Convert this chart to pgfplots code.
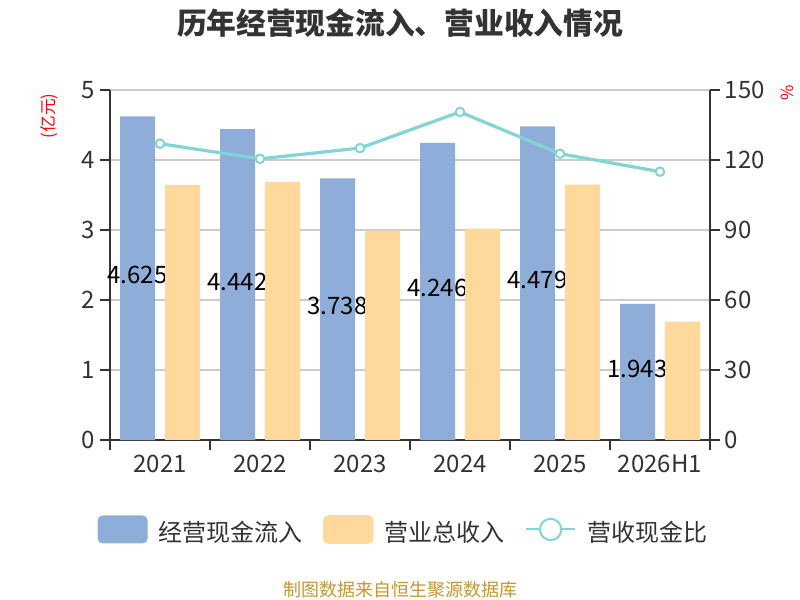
\documentclass[border=0pt]{standalone}
\usepackage{fontspec}
\setmainfont{Noto Sans CJK SC}
\usepackage{pgfplots}
\usepackage{pgfplotstable}
\pgfplotsset{compat=1.18}
\definecolor{cblue}{HTML}{8EADD9}
\definecolor{cyellow}{HTML}{FFD89B}
\definecolor{cline}{HTML}{82D4D7}
\definecolor{ctext}{HTML}{333333}
\definecolor{cgrid}{HTML}{CCCCCC}
\definecolor{cfoot}{HTML}{C8962E}
\definecolor{cred}{HTML}{FF0000}

\pgfplotstableread{
x cash rev ratio
0 4.625 3.643 127.0
1 4.442 3.687 120.5
2 3.738 2.988 125.1
3 4.246 3.020 140.6
4 4.479 3.650 122.7
5 1.943 1.690 115.0
}\datatable

\begin{document}
\begin{tikzpicture}[x=1pt,y=1pt]
\path[use as bounding box] (-82.5,-120) rectangle (517.5,330);
\pgfplotsset{
  common/.style={
    at={(0,0)}, anchor=south west, scale only axis,
    width=450pt, height=262.5pt,
    xmin=-0.5, xmax=5.5, ymin=0,
    tick align=outside, major tick length=7.5pt,
    tick style={ctext, line width=1pt},
    axis line style={ctext, line width=1.2pt},
    tick label style={font=\fontsize{18pt}{20pt}\selectfont, text=ctext},
    /pgf/number format/assume math mode=true,
  }
}
% axis 1: frame, grid, blue bars with labels, legend
\begin{axis}[common, ymax=5,
  axis x line*=bottom, axis y line*=left,
  xtick={-0.5,0.5,1.5,2.5,3.5,4.5,5.5},
  x tick label as interval,
  xticklabels={2021,2022,2023,2024,2025,2026H1},
  ytick={0,1,2,3,4,5},
  ymajorgrids, grid style={cgrid, line width=0.9pt},
  legend columns=3,
  legend style={draw=none, fill=none, inner sep=0pt,
    at={(-0.0211,-0.2557)}, anchor=west,
    nodes={inner sep=0pt, font=\fontsize{18pt}{20pt}\selectfont, text=ctext},
    /tikz/every odd column/.style={column sep=8pt},
    /tikz/every even column/.style={column sep=15.5pt}},
]
\addplot[ybar, bar width=26.25pt, bar shift=-16.875pt, fill=cblue, draw=none,
  legend image code/.code={\fill[cblue, rounded corners=3.75pt] (0pt,-8.5pt) rectangle (37.5pt,12.5pt);},
  visualization depends on=rawy\as\rawy,
  point meta=explicit symbolic,
  nodes near coords,
  nodes near coords style={anchor=center, xshift=-16.875pt, yshift={-\rawy*26.25pt+2.25pt},
    font=\fontsize{18pt}{20pt}\selectfont, text=black, inner sep=0pt}]
  table[x=x, y=cash, meta=cash]{\datatable};
\addlegendentry{经营现金流入}
\addlegendimage{legend image code/.code={\fill[cyellow, rounded corners=3.75pt] (0pt,-8.5pt) rectangle (37.5pt,12.5pt);}}
\addlegendentry{营业总收入}
\addlegendimage{legend image code/.code={
  \draw[cline, line width=1.5pt] (0pt,2pt) -- (37.2pt,2pt);
  \draw[cline, line width=1.5pt, fill=white] (18.6pt,2pt) circle (8pt);}}
\addlegendentry[xshift=-3pt]{营收现金比}
\end{axis}
% axis 2: yellow bars, drawn over the blue bar labels
\begin{axis}[common, ymax=5, hide axis]
\addplot[ybar, bar width=26.25pt, bar shift=16.875pt, fill=cyellow, draw=none]
  table[x=x, y=rev]{\datatable};
\end{axis}
% axis 3: right axis with ratio line
\begin{axis}[common, ymax=150,
  axis x line=none, axis y line*=right,
  ytick={0,30,60,90,120,150}]
\addplot[cline, line width=2.4pt, mark=*, mark size=3.2pt,
  mark options={fill=white, draw=cline, line width=1.5pt, solid}]
  table[x=x, y=ratio]{\datatable};
\end{axis}
\node[font=\fontsize{22.3pt}{26pt}\selectfont\bfseries, text=ctext] at (217.5,312.75) {历年经营现金流入、营业收入情况};
\node[rotate=90, font=\fontsize{12.5pt}{14pt}\selectfont, text=cred] at (-45.75,243) {(亿元)};
\node[rotate=90, font=\fontsize{12.5pt}{14pt}\selectfont, text=cred] at (507.75,260.6) {\%};
\node[font=\fontsize{13.5pt}{16pt}\selectfont, text=cfoot] at (217.5,-112.5) {制图数据来自恒生聚源数据库};
\end{tikzpicture}
\end{document}
